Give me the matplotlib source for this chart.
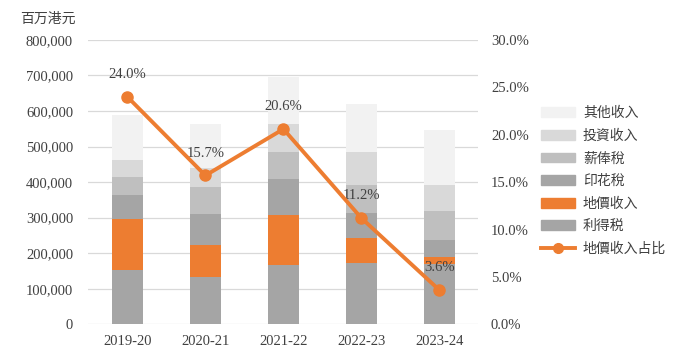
import numpy as np
import matplotlib
matplotlib.use("Agg")
from matplotlib import pyplot as plt
from matplotlib.patches import Patch
from matplotlib.lines import Line2D
from matplotlib.ticker import FuncFormatter

plt.rcParams['font.family'] = ['Liberation Serif', 'Noto Sans CJK SC']

# data (百万港元)
years = ["2019-20", "2020-21", "2021-22", "2022-23", "2023-24"]
profits_tax = [153000, 133000, 167000, 173000, 171000]      # 利得税
land_premium = [143000, 90000, 141000, 70000, 18000]        # 地價收入
stamp_duty = [68000, 88000, 101000, 70000, 48000]           # 印花稅
salaries_tax = [51000, 76000, 76000, 79000, 82000]          # 薪俸稅
investment = [46000, 52000, 79000, 94000, 73000]            # 投資收入
other = [129000, 125000, 131000, 134000, 155000]            # 其他收入
land_share = [24.0, 15.7, 20.6, 11.2, 3.6]                  # 地價收入占比 (%)

orange = "#ED7D31"
txt = "#404040"
series = [
    ("利得税", profits_tax, "#A5A5A5"),
    ("地價收入", land_premium, orange),
    ("印花稅", stamp_duty, "#A5A5A5"),
    ("薪俸稅", salaries_tax, "#BFBFBF"),
    ("投資收入", investment, "#D9D9D9"),
    ("其他收入", other, "#F2F2F2"),
]

fig = plt.figure(figsize=(6.85, 3.59), dpi=100)
ax = fig.add_axes([0.129, 0.0967, 0.5695, 0.792])

x = np.arange(len(years))
bottom = np.zeros(len(years))
for name, vals, col in series:
    ax.bar(x, vals, 0.4, bottom=bottom, color=col, zorder=2)
    bottom += np.array(vals)

ax.set_ylim(0, 800000)
ax.set_yticks(np.arange(0, 800001, 100000))
ax.yaxis.set_major_formatter(FuncFormatter(lambda v, p: f"{int(v):,}"))
ax.set_xlim(-0.5, len(years) - 0.5)
ax.set_xticks(x)
ax.set_xticklabels(years)
ax.grid(axis="y", color="#D9D9D9", linewidth=0.9, zorder=0)
for s in ax.spines.values():
    s.set_visible(False)
ax.tick_params(axis="both", length=0, labelsize=10.5, colors=txt)
ax.tick_params(axis="y", pad=11)
ax.tick_params(axis="x", pad=8)

ax2 = ax.twinx()
ax2.plot(x, land_share, color=orange, linewidth=2.8, marker="o", markersize=8, zorder=5)
ax2.set_ylim(0, 30)
ax2.set_yticks(np.arange(0, 30.1, 5))
ax2.yaxis.set_major_formatter(FuncFormatter(lambda v, p: f"{v:.1f}%"))
for s in ax2.spines.values():
    s.set_visible(False)
ax2.tick_params(axis="y", length=0, labelsize=10.5, colors=txt, pad=9)
for xi, v in zip(x, land_share):
    ax2.annotate(f"{v:.1f}%", (xi, v), xytext=(0, 16), textcoords="offset points",
                 ha="center", va="center", fontsize=10.5, color=txt)

fig.text(0.03, 0.947, "百万港元", fontsize=10, color=txt,
         family=['Noto Sans CJK SC'], va="center")

handles = [Patch(color=col) for _, _, col in series[::-1]]
labels = [name for name, _, _ in series[::-1]]
handles.append(Line2D([], [], color=orange, linewidth=2.8, marker="o", markersize=7))
labels.append("地價收入占比")
leg = fig.legend(handles, labels, loc="upper left", bbox_to_anchor=(0.782, 0.72),
                 frameon=False, handlelength=2.45, handleheight=0.7,
                 handletextpad=0.55, labelspacing=0.62, borderaxespad=0,
                 prop={'family': ['Noto Sans CJK SC'], 'size': 10})
for t in leg.get_texts():
    t.set_color(txt)

fig.savefig("out.png", dpi=100)
